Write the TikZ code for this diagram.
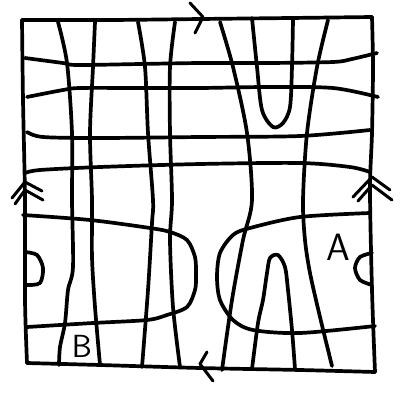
\documentclass[tikz,border=0pt]{standalone}
\begin{document}
\begin{tikzpicture}[x=1pt,y=-1pt,
  ink/.style={line width=3.7pt, line cap=round, line join=round},
  tip/.style={line width=3pt, line cap=round, line join=round},
  lbl/.style={font=\sffamily, inner sep=0pt}]
\useasboundingbox (0,0) rectangle (400,392);
% frame
\draw[ink] plot[smooth] coordinates {(22,20) (110,20) (200,19) (290,18) (372,17)};
\draw[ink] plot[smooth] coordinates {(372,17) (373,67) (372,133) (370,190) (372,290) (375,372)};
\draw[ink] plot[smooth] coordinates {(375,372) (300,370) (200,368) (100,365) (27,363)};
\draw[ink] plot[smooth] coordinates {(27,363) (25,300) (25,200) (23,100) (22,20)};
% horizontal lines
\draw[ink] plot[smooth] coordinates {(25,58) (63,63) (77,65) (140,64) (200,63) (267,63) (333,62) (352,59) (377,53)};
\draw[ink] plot[smooth] coordinates {(27,97) (63,90) (80,88) (140,88) (200,88) (267,87) (333,88) (378,97)};
\draw[ink] plot[smooth] coordinates {(27,132) (43,137) (100,138) (200,137) (300,136) (370,130)};
\draw[ink] plot[smooth] coordinates {(25,173) (40,170) (100,167) (200,164) (300,163) (350,167) (370,172)};
% left hairpin
\draw[ink] plot[smooth] coordinates {(23,215) (90,220) (150,228) (170,232) (187,240) (195,257) (196,275) (195,290) (187,307) (167,315) (147,320) (93,323) (27,327)};
\draw[ink] plot[smooth] coordinates {(25,252) (37,255) (43,268) (40,283) (27,285)};
% right hairpin
\draw[ink] plot[smooth] coordinates {(370,213) (300,217) (250,228) (233,235) (220,253) (217,277) (220,300) (233,320) (253,330) (300,333) (375,326)};
\draw[ink] plot[smooth] coordinates {(372,253) (360,257) (355,268) (360,280) (372,285)};
% vertical lines
\draw[ink] plot[smooth] coordinates {(58,22) (67,63) (72,133) (72,200) (73,267) (68,290) (65,323) (60,347) (59,365)};
\draw[ink] plot[smooth] coordinates {(95,22) (93,67) (90,133) (92,200) (92,257) (95,307) (100,365)};
\draw[ink] plot[smooth] coordinates {(138,22) (145,67) (148,133) (153,200) (152,223) (148,290) (142,367)};
\draw[ink] plot[smooth] coordinates {(175,22) (170,67) (170,133) (172,200) (170,240) (173,307) (180,367)};
\draw[ink] plot[smooth] coordinates {(220,22) (233,67) (247,133) (252,200) (243,240) (232,300) (222,370)};
\draw[ink] plot[smooth] coordinates {(328,20) (317,67) (307,133) (303,200) (305,240) (310,273) (320,317) (332,366)};
% top hairpin
\draw[ink] plot[smooth] coordinates {(252,18) (257,67) (262,110) (273,127) (283,123) (290,107) (292,67) (293,20)};
% bottom hairpin
\draw[ink] plot[smooth] coordinates {(252,369) (258,323) (263,300) (267,273) (270,258) (278,255) (285,267) (288,290) (292,330) (295,369)};
% arrowheads
\draw[tip] (190,3) -- (203,17) -- (195,33);
\draw[tip] (207,352) -- (200,364) -- (213,381);
\draw[tip] (12,198) -- (25,182) -- (42,191);
\draw[tip] (15,204) -- (25,190) -- (43,200);
\draw[tip] (353,197) -- (372,177) -- (390,190);
\draw[tip] (358,201) -- (372,185) -- (392,200);
% labels
\node[lbl, font=\sffamily\fontsize{38}{38}\selectfont] (A) at (338,247) {A};
\node[lbl, font=\sffamily\fontsize{32}{32}\selectfont] (B) at (82,346) {B};
\end{tikzpicture}
\end{document}
